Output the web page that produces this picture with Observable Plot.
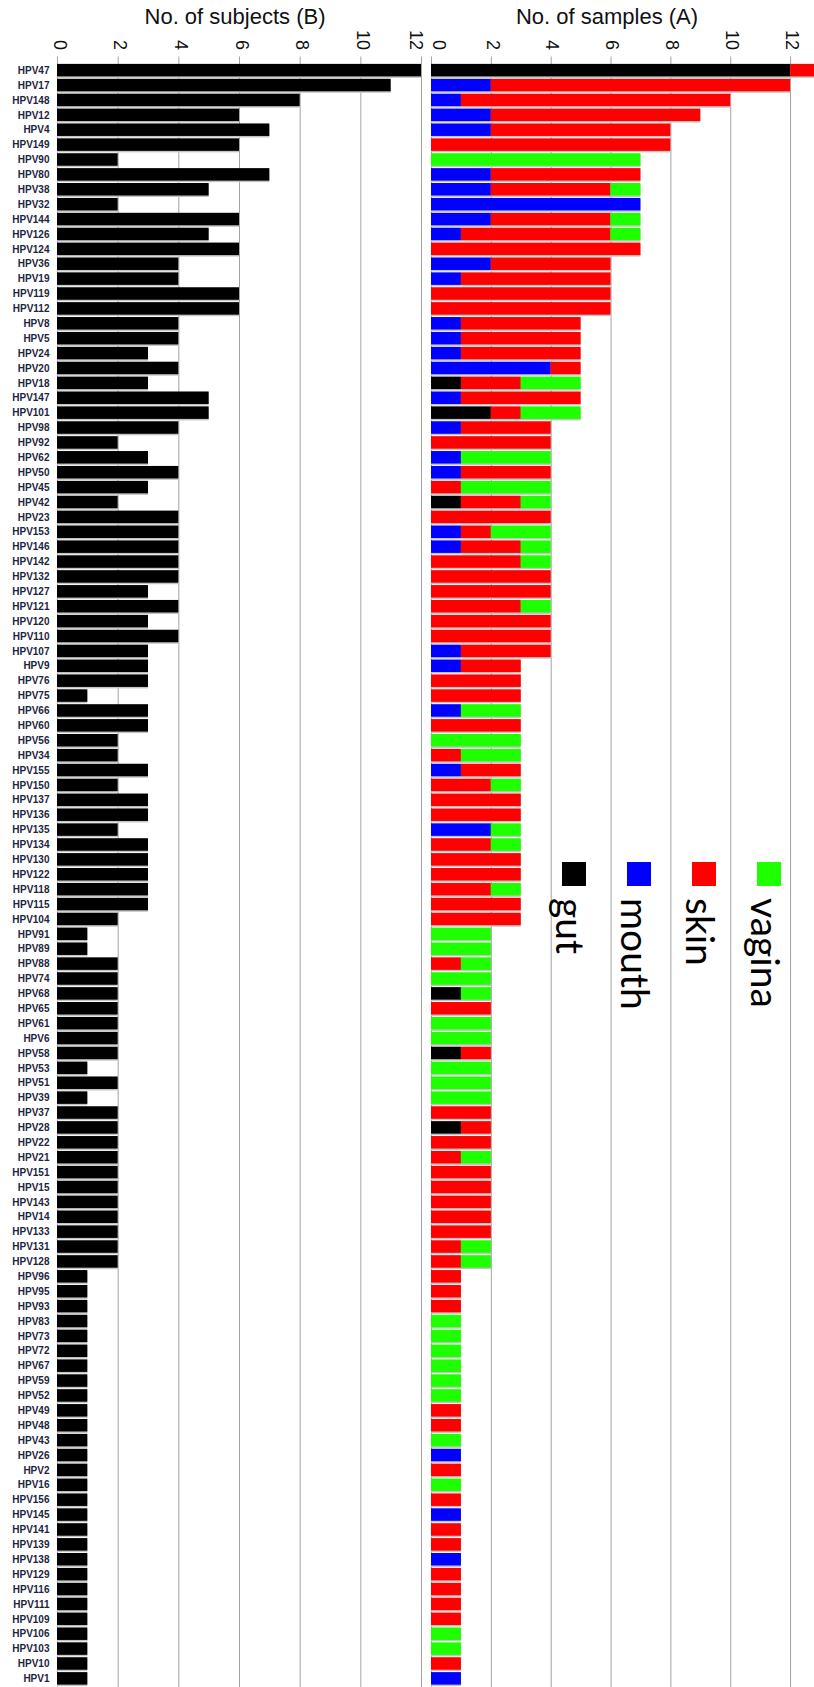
<!DOCTYPE html>
<html><head><meta charset="utf-8">
<script src="https://cdn.jsdelivr.net/npm/d3@7"></script>
<script src="https://cdn.jsdelivr.net/npm/@observablehq/plot@0.6"></script>
<style>
body{margin:0;background:#fff;}
#wrap{position:relative;width:814px;height:1687px;overflow:hidden;background:#fff;}
.title{position:absolute;top:0;font-family:"Liberation Sans Narrow","Liberation Sans",Arial,sans-serif;font-size:22px;color:#111;transform:translateX(-50%);white-space:nowrap;line-height:34px}
#charts{position:absolute;top:30px;left:0;display:flex;}
.leg-sq{position:absolute;width:24px;height:24px}
.leg-tx{position:absolute;font-family:Lato,sans-serif;font-size:39px;line-height:1;transform-origin:0 0;transform:rotate(90deg);white-space:nowrap;color:#000}
</style></head>
<body>
<div id="wrap">
  <div class="title" style="left:235px">No. of subjects (B)</div>
  <div class="title" style="left:607px">No. of samples (A)</div>
  <div id="charts"></div>
  <div id="legend"></div>
</div>
<script>
const hpv = ["HPV47","HPV17","HPV148","HPV12","HPV4","HPV149","HPV90","HPV80","HPV38","HPV32",
"HPV144","HPV126","HPV124","HPV36","HPV19","HPV119","HPV112","HPV8","HPV5","HPV24",
"HPV20","HPV18","HPV147","HPV101","HPV98","HPV92","HPV62","HPV50","HPV45","HPV42",
"HPV23","HPV153","HPV146","HPV142","HPV132","HPV127","HPV121","HPV120","HPV110","HPV107",
"HPV9","HPV76","HPV75","HPV66","HPV60","HPV56","HPV34","HPV155","HPV150","HPV137",
"HPV136","HPV135","HPV134","HPV130","HPV122","HPV118","HPV115","HPV104","HPV91","HPV89",
"HPV88","HPV74","HPV68","HPV65","HPV61","HPV6","HPV58","HPV53","HPV51","HPV39",
"HPV37","HPV28","HPV22","HPV21","HPV151","HPV15","HPV143","HPV14","HPV133","HPV131",
"HPV128","HPV96","HPV95","HPV93","HPV83","HPV73","HPV72","HPV67","HPV59","HPV52",
"HPV49","HPV48","HPV43","HPV26","HPV2","HPV16","HPV156","HPV145","HPV141","HPV139",
"HPV138","HPV129","HPV116","HPV111","HPV109","HPV106","HPV103","HPV10","HPV1"];

const subjects = [12,11,8,6,7,6,2,7,5,2,
6,5,6,4,4,6,6,4,4,3,
4,3,5,5,4,2,3,4,3,2,
4,4,4,4,4,3,4,3,4,3,
3,3,1,3,3,2,2,3,2,3,
3,2,3,3,3,3,3,2,1,1,
2,2,2,2,2,2,2,1,2,1,
2,2,2,2,2,2,2,2,2,2,
2,1,1,1,1,1,1,1,1,1,
1,1,1,1,1,1,1,1,1,1,
1,1,1,1,1,1,1,1,1];

const gut = [12,0,0,0,0,0,0,0,0,0,
0,0,0,0,0,0,0,0,0,0,
0,1,0,2,0,0,0,0,0,1,
0,0,0,0,0,0,0,0,0,0,
0,0,0,0,0,0,0,0,0,0,
0,0,0,0,0,0,0,0,0,0,
0,0,1,0,0,0,1,0,0,0,
0,1,0,0,0,0,0,0,0,0,
0,0,0,0,0,0,0,0,0,0,
0,0,0,0,0,0,0,0,0,0,
0,0,0,0,0,0,0,0,0];

const mouth = [0,2,1,2,2,0,0,2,2,7,
2,1,0,2,1,0,0,1,1,1,
4,0,1,0,1,0,1,1,0,0,
0,1,1,0,0,0,0,0,0,1,
1,0,0,1,0,0,0,1,0,0,
0,2,0,0,0,0,0,0,0,0,
0,0,0,0,0,0,0,0,0,0,
0,0,0,0,0,0,0,0,0,0,
0,0,0,0,0,0,0,0,0,0,
0,0,0,1,0,0,0,1,0,0,
1,0,0,0,0,0,0,0,1];

const skin = [1,10,9,7,6,8,0,5,4,0,
4,5,7,4,5,6,6,4,4,4,
1,2,4,1,3,4,0,3,1,2,
4,1,2,3,4,4,3,4,4,3,
2,3,3,0,3,0,1,2,2,3,
3,0,2,3,3,2,3,3,0,0,
1,0,0,2,0,0,1,0,0,0,
2,1,2,1,2,2,2,2,2,1,
1,1,1,1,0,0,0,0,0,0,
1,1,0,0,1,0,1,0,1,1,
0,1,1,1,1,0,0,1,0];

const vagina = [0,0,0,0,0,0,7,0,1,0,
1,1,0,0,0,0,0,0,0,0,
0,2,0,2,0,0,3,0,3,1,
0,2,1,1,0,0,1,0,0,0,
0,0,0,2,0,3,2,0,1,0,
0,1,1,0,0,1,0,0,2,2,
1,2,1,0,2,2,0,2,2,2,
0,0,0,1,0,0,0,0,0,1,
1,0,0,0,1,1,1,1,1,1,
0,0,1,0,0,1,0,0,0,0,
0,0,0,0,0,1,1,0,0];

const sites = ["gut","mouth","skin","vagina"];
const siteColors = ["#000000","#0000ff","#ff0000","#1eff00"];
const xTicks = [0,2,4,6,8,10,12];

const siteValues = [gut, mouth, skin, vagina];
const table = hpv.flatMap((h,i) => sites.map((s,j) => ({hpv:h, site:s, n:siteValues[j][i]}))).filter(d => d.n > 0);
const totals = hpv.map((h,i) => gut[i]+mouth[i]+skin[i]+vagina[i]);

const H = 1657, MT = 31.5;
const gridCol = "#a3a3a3";
const tickFont = "Liberation Sans, Arial, sans-serif";
const axisOpts = {anchor: "top", tickSize: 0, tickPadding: 12, tickRotate: 90, fontSize: 18, label: null, color: "#111"};

const left = Plot.plot({
  width: 426, height: H, marginLeft: 57, marginRight: 5, marginTop: MT, marginBottom: 0,
  x: {domain: [0, 12], axis: null},
  y: {domain: hpv, padding: 0.16, axis: null},
  style: {background: "transparent", fontFamily: tickFont, overflow: "visible"},
  marks: [
    Plot.gridX(xTicks, {stroke: gridCol, strokeOpacity: 1, strokeWidth: 1, insetTop: -5}),
    Plot.axisX(xTicks.slice(0, -1), {...axisOpts, dx: 2}),
    Plot.axisX(xTicks.slice(-1), {...axisOpts, dx: -6}),
    Plot.axisY({anchor: "left", tickSize: 0, tickPadding: 8, fontSize: 10, fontWeight: "bold", label: null, color: "#1c2541"}),
    Plot.barX(hpv, {y: d => d, x: (d,i) => subjects[i], fill: "#c4c4c4", dy: 1.5}),
    Plot.barX(hpv, {y: d => d, x: (d,i) => subjects[i], fill: "#000"})
  ]
});

const right = Plot.plot({
  width: 388, height: H, marginLeft: 5, marginRight: 0, marginTop: MT, marginBottom: 0,
  x: {domain: [0, 12.8], axis: null},
  y: {domain: hpv, padding: 0.16, axis: null},
  color: {domain: sites, range: siteColors},
  style: {background: "transparent", fontFamily: tickFont, overflow: "visible"},
  marks: [
    Plot.gridX(xTicks, {stroke: gridCol, strokeOpacity: 1, strokeWidth: 1, insetTop: -5}),
    Plot.axisX(xTicks.slice(0, 1), {...axisOpts, dx: 7}),
    Plot.axisX(xTicks.slice(1), {...axisOpts, dx: 1}),
    Plot.barX(hpv, {y: d => d, x: (d,i) => totals[i], fill: "#c4c4c4", dy: 1.5, clip: true}),
    Plot.barX(table, Plot.stackX({y: "hpv", x: "n", fill: "site", order: sites, clip: true}))
  ]
});

const charts = document.getElementById("charts");
charts.append(left, right);

// legend
const legend = document.getElementById("legend");
sites.forEach((s, j) => {
  const sq = document.createElement("div");
  sq.className = "leg-sq";
  sq.style.left = (562 + 65*j) + "px";
  sq.style.top = "862px";
  sq.style.background = siteColors[j];
  legend.append(sq);
  const tx = document.createElement("div");
  tx.className = "leg-tx";
  tx.textContent = s;
  tx.style.left = (590 + 65*j) + "px";
  tx.style.top = "898px";
  legend.append(tx);
});
</script>
</body></html>
